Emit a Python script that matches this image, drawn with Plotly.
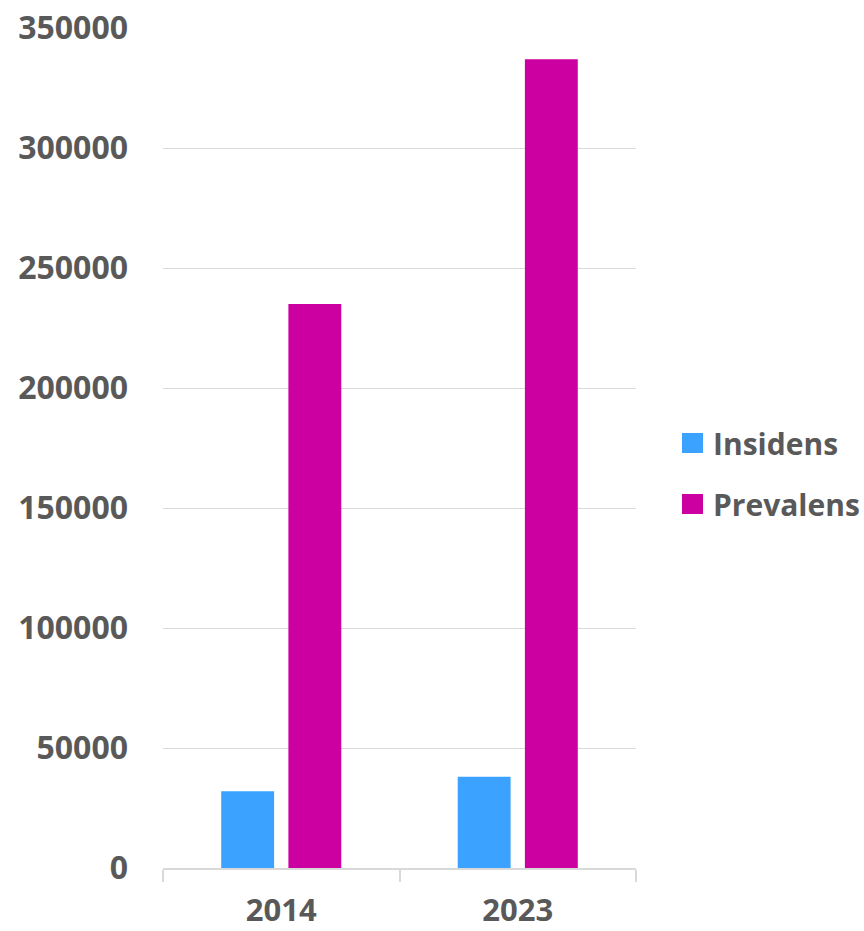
import plotly.graph_objects as go

years = ["2014", "2023"]
insidens = [32000, 38000]
prevalens = [235000, 337000]
series_names = ["Insidens", "Prevalens"]
series_colors = ["#3BA3FF", "#CC00A0"]
y_ticks = [0, 50000, 100000, 150000, 200000, 250000, 300000, 350000]

W, H = 864, 931
L, R, T, B = 163, 228, 28, 63
FONT = "Open Sans"
GREY = "#595959"

def px_x(x):
    return (x - L) / (W - L - R)

def px_y(y):
    return 1 - (y - T) / (H - T - B)

fig = go.Figure()
for name, vals, col in zip(series_names, [insidens, prevalens], series_colors):
    fig.add_trace(go.Bar(x=years, y=vals, name=name, marker_color=col,
                         marker_line_width=0, showlegend=False))

fig.update_layout(
    width=W, height=H,
    margin=dict(l=L, r=R, t=T, b=B),
    paper_bgcolor="white", plot_bgcolor="white",
    barmode="group", bargap=0.432, bargroupgap=0.2125,
    font=dict(family=FONT, color=GREY, size=32, weight="bold"),
)
fig.update_yaxes(range=[0, 350000], tickvals=y_ticks, ticktext=[str(v) for v in y_ticks],
                 showgrid=True, gridcolor="#D9D9D9", gridwidth=1.3, zeroline=False,
                 showline=False, ticks="", ticklabelstandoff=34, automargin=False,
                 tickfont=dict(family=FONT, size=32, color=GREY, weight="bold"))
fig.update_xaxes(type="category", showline=True, linecolor="#D9D9D9", linewidth=1.5,
                 ticks="outside", tickson="boundaries", ticklen=12, tickcolor="#D9D9D9",
                 tickwidth=1.5, ticklabelstandoff=14, automargin=False,
                 tickfont=dict(family=FONT, size=31, color=GREY, weight="bold"))

# manual legend
leg_rows = [443, 504]
for name, col, yc in zip(series_names, series_colors, leg_rows):
    fig.add_shape(type="rect", xref="paper", yref="paper",
                  x0=px_x(682), x1=px_x(703), y0=px_y(yc + 10), y1=px_y(yc - 10),
                  fillcolor=col, line_width=0)
    fig.add_annotation(xref="paper", yref="paper", x=px_x(711), y=px_y(yc),
                       text=name, showarrow=False, xanchor="left", yanchor="middle",
                       font=dict(family=FONT, size=30, color=GREY, weight="bold"))

fig.write_html("out.html")
